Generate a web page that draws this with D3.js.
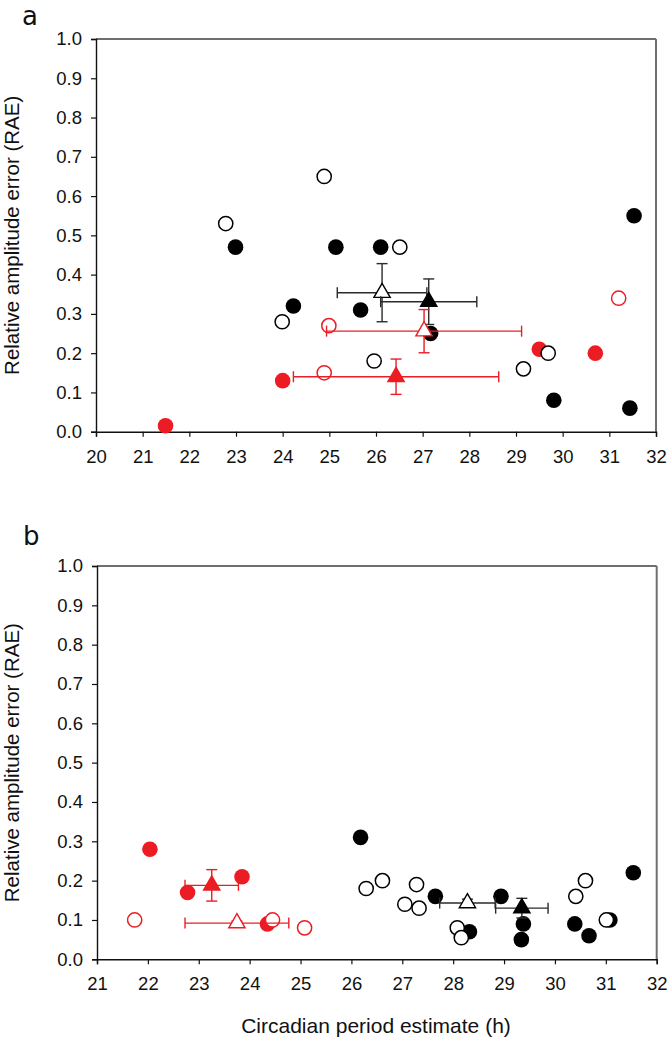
<!DOCTYPE html>
<html>
<head>
<meta charset="utf-8">
<script src="https://cdn.jsdelivr.net/npm/d3@7"></script>
<style>
  html, body { margin: 0; padding: 0; background: #fff; }
  svg { display: block; }
</style>
</head>
<body>
<svg id="chart" width="667" height="1044"></svg>
<script>
// ---------- DATA ----------
// Panel a
const aBlackFilled = [[22.99,0.47],[24.23,0.32],[25.14,0.47],[26.10,0.47],[25.67,0.31],[27.17,0.25],[29.81,0.08],[31.44,0.06],[31.53,0.55]];
const aBlackOpen   = [[22.78,0.53],[24.89,0.65],[23.99,0.28],[26.51,0.47],[25.96,0.18],[29.16,0.16],[29.69,0.20]];
const aRedFilled   = [[21.49,0.015],[24.00,0.13],[29.50,0.21],[30.70,0.20]];
const aRedOpen     = [[24.99,0.27],[24.89,0.15],[31.20,0.34]];
// means: [x, xErr, y, yErr, colour, filled]
const aMeans = [
  [26.13,0.96,0.354,0.074,"black",false],
  [27.13,1.03,0.331,0.058,"black",true],
  [27.03,2.09,0.256,0.055,"red",false],
  [26.43,2.20,0.140,0.045,"red",true]
];
// Panel b
const bRedFilled   = [[22.04,0.28],[22.78,0.17],[23.85,0.21],[24.35,0.09]];
const bRedOpen     = [[21.74,0.10],[24.45,0.10],[25.08,0.08]];
const bBlackFilled = [[26.18,0.31],[27.65,0.16],[28.32,0.07],[28.94,0.16],[29.38,0.09],[29.34,0.05],[30.39,0.09],[30.67,0.06],[31.08,0.10],[31.54,0.22]];
const bBlackOpen   = [[26.29,0.18],[26.61,0.20],[27.28,0.19],[27.05,0.14],[27.33,0.13],[28.08,0.08],[28.16,0.055],[30.41,0.16],[30.60,0.20],[31.01,0.10]];
const bMeans = [
  [23.255,0.525,0.188,0.040,"red",true],
  [23.75,1.02,0.092,0.005,"red",false],
  [28.28,0.545,0.143,0.010,"black",false],
  [29.35,0.515,0.130,0.025,"black",true]
];
const yTicks = [0,0.1,0.2,0.3,0.4,0.5,0.6,0.7,0.8,0.9,1.0];
const aXTicks = [20,21,22,23,24,25,26,27,28,29,30,31,32];
const bXTicks = [21,22,23,24,25,26,27,28,29,30,31,32];
const yTitle = "Relative amplitude error (RAE)";
const xTitle = "Circadian period estimate (h)";

// ---------- DRAW ----------
const RED = "#ec1c24";
const svg = d3.select("#chart");
const FONT = "Liberation Sans, Arial, sans-serif";

function panel(cfg) {
  const x = d3.scaleLinear().domain(cfg.xDomain).range([cfg.left, cfg.right]);
  const y = d3.scaleLinear().domain([0, 1]).range([cfg.bottom, cfg.top]);
  const g = svg.append("g");

  // frame: top and right grey
  g.append("line").attr("x1", cfg.left).attr("x2", cfg.right).attr("y1", cfg.top).attr("y2", cfg.top)
    .attr("stroke", "#6e6e6e").attr("stroke-width", 2);
  g.append("line").attr("x1", cfg.right).attr("x2", cfg.right).attr("y1", cfg.top).attr("y2", cfg.bottom)
    .attr("stroke", "#6e6e6e").attr("stroke-width", 2);

  const yAxis = g.append("g").attr("transform", `translate(${cfg.left},0)`)
    .call(d3.axisLeft(y).tickValues(yTicks).tickFormat(d3.format(".1f")).tickSize(5).tickPadding(9));
  const xAxis = g.append("g").attr("transform", `translate(0,${cfg.bottom})`)
    .call(d3.axisBottom(x).tickValues(cfg.xTicks).tickFormat(d3.format("d")).tickSize(5).tickPadding(13));
  [yAxis, xAxis].forEach(ax => {
    ax.attr("font-family", FONT);
    ax.select(".domain").attr("stroke", "#111").attr("stroke-width", 1.4);
    ax.selectAll(".tick line").attr("stroke", "#111").attr("stroke-width", 1.2);
    ax.selectAll(".tick text").attr("font-family", FONT).attr("font-size", 18.5).attr("fill", "#111");
  });

  // points
  const dot = (data, colour, filled) => {
    g.append("g").selectAll("circle").data(data).join("circle")
      .attr("cx", d => x(d[0])).attr("cy", d => y(d[1]))
      .attr("r", filled ? 7.8 : 7.1)
      .attr("fill", filled ? colour : "#fff")
      .attr("stroke", colour)
      .attr("stroke-width", filled ? 0 : 1.5);
  };
  cfg.filled.forEach(s => dot(s[0], s[1], true));
  cfg.open.forEach(s => dot(s[0], s[1], false));

  // means with error bars
  const cap = 5.5;
  cfg.means.forEach(m => {
    const [mx, ex, my, ey, c, filled] = m;
    const col = c === "red" ? RED : "#2a2a2a";
    const mg = g.append("g").attr("stroke", col).attr("stroke-width", 1.4).attr("fill", "none");
    // horizontal
    mg.append("line").attr("x1", x(mx - ex)).attr("x2", x(mx + ex)).attr("y1", y(my)).attr("y2", y(my));
    mg.append("line").attr("x1", x(mx - ex)).attr("x2", x(mx - ex)).attr("y1", y(my) - cap).attr("y2", y(my) + cap);
    mg.append("line").attr("x1", x(mx + ex)).attr("x2", x(mx + ex)).attr("y1", y(my) - cap).attr("y2", y(my) + cap);
    // vertical
    mg.append("line").attr("x1", x(mx)).attr("x2", x(mx)).attr("y1", y(my - ey)).attr("y2", y(my + ey));
    mg.append("line").attr("x1", x(mx) - cap).attr("x2", x(mx) + cap).attr("y1", y(my - ey)).attr("y2", y(my - ey));
    mg.append("line").attr("x1", x(mx) - cap).attr("x2", x(mx) + cap).attr("y1", y(my + ey)).attr("y2", y(my + ey));
    const fillCol = filled ? (c === "red" ? RED : "#000") : "#fff";
    g.append("path")
      .attr("d", d3.symbol().type(d3.symbolTriangle).size(115)())
      .attr("transform", `translate(${x(mx)},${y(my)})`)
      .attr("fill", fillCol)
      .attr("stroke", c === "red" ? RED : "#000")
      .attr("stroke-width", 1.4);
  });

  // panel label
  svg.append("text").attr("x", cfg.labelX).attr("y", cfg.labelY)
    .attr("font-family", "DejaVu Sans, sans-serif").attr("font-size", 26).attr("fill", "#111")
    .text(cfg.label);
  // y title
  svg.append("text")
    .attr("transform", `translate(19,${(cfg.top + cfg.bottom) / 2}) rotate(-90)`)
    .attr("text-anchor", "middle")
    .attr("font-family", FONT).attr("font-size", 20.5).attr("fill", "#111")
    .text(yTitle);
}

panel({
  xDomain: [20, 32], xTicks: aXTicks, left: 96, right: 656, top: 39, bottom: 431.7,
  filled: [[aBlackFilled, "#000"], [aRedFilled, RED]],
  open: [[aBlackOpen, "#000"], [aRedOpen, RED]],
  means: aMeans, label: "a", labelX: 22, labelY: 25
});
panel({
  xDomain: [21, 32], xTicks: bXTicks, left: 97, right: 656.7, top: 566, bottom: 959.3,
  filled: [[bBlackFilled, "#000"], [bRedFilled, RED]],
  open: [[bBlackOpen, "#000"], [bRedOpen, RED]],
  means: bMeans, label: "b", labelX: 23, labelY: 545
});

svg.append("text").attr("x", 376).attr("y", 1033).attr("text-anchor", "middle")
  .attr("font-family", FONT).attr("font-size", 21).attr("fill", "#111")
  .text(xTitle);
</script>
</body>
</html>
